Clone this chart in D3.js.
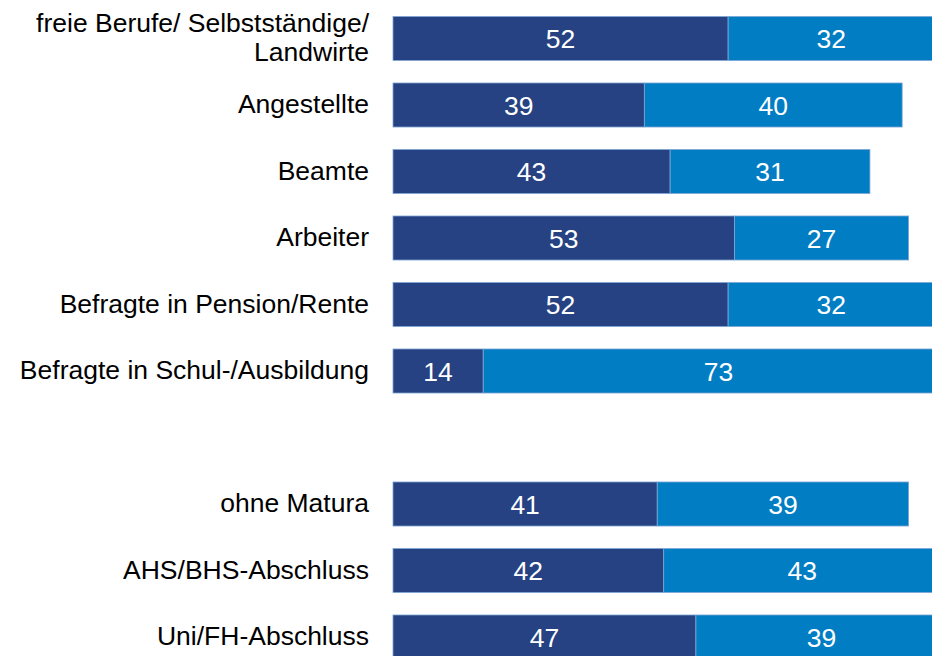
<!DOCTYPE html>
<html><head><meta charset="utf-8">
<script src="https://cdn.jsdelivr.net/npm/d3@7/dist/d3.min.js"></script>
<style>html,body{margin:0;padding:0;background:#fff;overflow:hidden}</style>
</head><body>
<svg id="c" width="932" height="656"></svg>
<script>
const categories = ["freie Berufe/ Selbstständige/\nLandwirte","Angestellte","Beamte","Arbeiter","Befragte in Pension/Rente","Befragte in Schul-/Ausbildung","","ohne Matura","AHS/BHS-Abschluss","Uni/FH-Abschluss"];
const series1 = [52,39,43,53,52,14,null,41,42,47];
const series2 = [32,40,31,27,32,73,null,39,43,39];
const colors = ["#264282","#007DC3"];

const svg = d3.select("#c");
const x = d3.scaleLinear().domain([0,100]).range([393, 393+644.5]);
const y = d3.scaleBand().domain(d3.range(categories.length)).range([5.25, 670.25]).paddingInner(0.338).paddingOuter(0.169);

const rows = categories.map((c,i)=>({c,i,a:series1[i],b:series2[i]})).filter(d=>d.a!=null);

const g = svg.append("g");
rows.forEach(d=>{
  const segs=[{v0:0,v1:d.a,col:colors[0]},{v0:d.a,v1:d.a+d.b,col:colors[1]}];
  segs.forEach(s=>{
    g.append("rect").attr("x",x(s.v0)).attr("y",y(d.i)).attr("width",x(s.v1)-x(s.v0)).attr("height",y.bandwidth())
     .attr("fill",s.col).attr("stroke","#7fa6d6").attr("stroke-width",0.8);
    g.append("text").attr("x",(x(s.v0)+x(s.v1))/2).attr("y",y(d.i)+y.bandwidth()/2).attr("dy","0.36em")
     .attr("text-anchor","middle").attr("fill","#fff").style("font-family","Liberation Sans, Arial, sans-serif").style("font-size","26.5px")
     .text(s.v1-s.v0);
  });
});

const lab = svg.append("g");
categories.forEach((c,i)=>{
  if(!c) return;
  const lines=c.split("\n");
  const cy=y(i)+y.bandwidth()/2;
  const lh=29;
  lines.forEach((l,k)=>{
    lab.append("text").attr("x",369).attr("y",cy+(k-(lines.length-1)/2)*lh).attr("dy","0.32em")
      .attr("text-anchor","end").attr("fill","#000").style("font-family","Liberation Sans, Arial, sans-serif").style("font-size","26.5px").text(l);
  });
});
</script>
</body></html>
